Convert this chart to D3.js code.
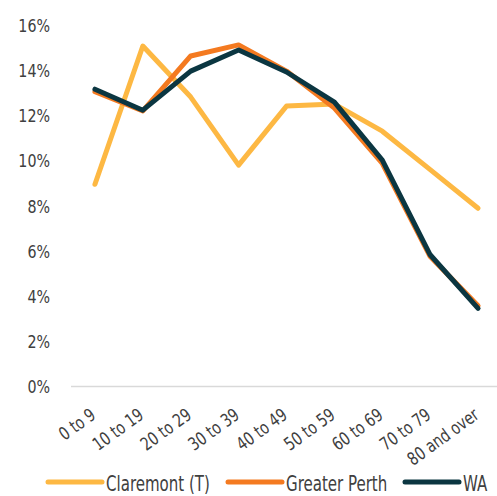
<!DOCTYPE html>
<html>
<head>
<meta charset="utf-8">
<script src="https://cdn.jsdelivr.net/npm/d3@7"></script>
<style>
  body { margin: 0; background: #fff; }
  .chart text { font-family: "DejaVu Sans Condensed", "DejaVu Sans", sans-serif; fill: #404040; }
</style>
</head>
<body>
<div class="chart"></div>
<script>
// age groups on the x axis
var ageGroups = ["0 to 9", "10 to 19", "20 to 29", "30 to 39", "40 to 49", "50 to 59", "60 to 69", "70 to 79", "80 and over"];

// share of population in each age group (%)
var claremont = [8.95, 15.07, 12.81, 9.8, 12.41, 12.5, 11.3, 9.6, 7.89];
var greaterPerth = [13.05, 12.2, 14.63, 15.12, 13.96, 12.32, 9.88, 5.75, 3.57];
var wa = [13.16, 12.23, 13.96, 14.89, 13.92, 12.59, 10.02, 5.83, 3.46];

var seriesNames = ["Claremont (T)", "Greater Perth", "WA"];
var yTicks = [0, 2, 4, 6, 8, 10, 12, 14, 16];

var svgWidth = 497;
var svgHeight = 496;
var margin = { top: 25, right: 0, bottom: 110, left: 71 };
var width = 431;
var height = svgHeight - margin.top - margin.bottom + 0.5;

var colors = ["#FDB843", "#F47A20", "#0B3641"];

var svg = d3.select(".chart")
  .append("svg")
  .attr("width", svgWidth)
  .attr("height", svgHeight);

var chart = svg.append("g")
  .attr("transform", "translate(" + margin.left + "," + margin.top + ")");

var xScale = d3.scaleBand()
  .domain(ageGroups)
  .range([0, width]);

var yScale = d3.scaleLinear()
  .domain([0, 16])
  .range([height, 0]);

// baseline at 0%
chart.append("line")
  .attr("x1", 0)
  .attr("x2", width)
  .attr("y1", yScale(0))
  .attr("y2", yScale(0))
  .attr("stroke", "#d9d9d9")
  .attr("stroke-width", 1.5);

// y axis labels
var leftAxis = d3.axisLeft(yScale)
  .tickValues(yTicks)
  .tickFormat(function(d) { return d + "%"; })
  .tickSize(0)
  .tickPadding(21);

chart.append("g")
  .attr("class", "y-axis")
  .call(leftAxis)
  .call(function(g) { g.select(".domain").remove(); })
  .selectAll("text")
  .attr("font-size", 18)
  .attr("dy", "0.35em")
  .attr("transform", "translate(-21,0) scale(0.88,1) translate(21,0)");

// x axis labels, rotated
var bottomAxis = d3.axisBottom(xScale).tickSize(0);

chart.append("g")
  .attr("class", "x-axis")
  .attr("transform", "translate(0," + height + ")")
  .call(bottomAxis)
  .call(function(g) { g.select(".domain").remove(); })
  .selectAll("text")
  .attr("font-size", 18)
  .attr("text-anchor", "end")
  .attr("x", 0)
  .attr("y", 0)
  .attr("dy", 0)
  .attr("transform", "translate(2,31) rotate(-36) scale(0.85,1)");

var allSeries = [claremont, greaterPerth, wa];

var line = d3.line()
  .x(function(d, i) { return xScale(ageGroups[i]) + xScale.bandwidth() / 2; })
  .y(function(d) { return yScale(d); });

allSeries.forEach(function(values, k) {
  chart.append("path")
    .datum(values)
    .attr("d", line)
    .attr("fill", "none")
    .attr("stroke", colors[k])
    .attr("stroke-width", 5)
    .attr("stroke-linejoin", "round")
    .attr("stroke-linecap", "round");
});

// legend
var legendX = [48, 228, 405];
var legend = svg.append("g")
  .attr("transform", "translate(0,482)");

seriesNames.forEach(function(name, k) {
  legend.append("line")
    .attr("x1", legendX[k])
    .attr("x2", legendX[k] + 54)
    .attr("y1", 0)
    .attr("y2", 0)
    .attr("stroke", colors[k])
    .attr("stroke-width", 5)
    .attr("stroke-linecap", "round");
  legend.append("text")
    .attr("transform", "translate(" + (legendX[k] + 58) + ",9) scale(0.76,1)")
    .attr("font-size", 22)
    .text(name);
});
</script>
</body>
</html>
